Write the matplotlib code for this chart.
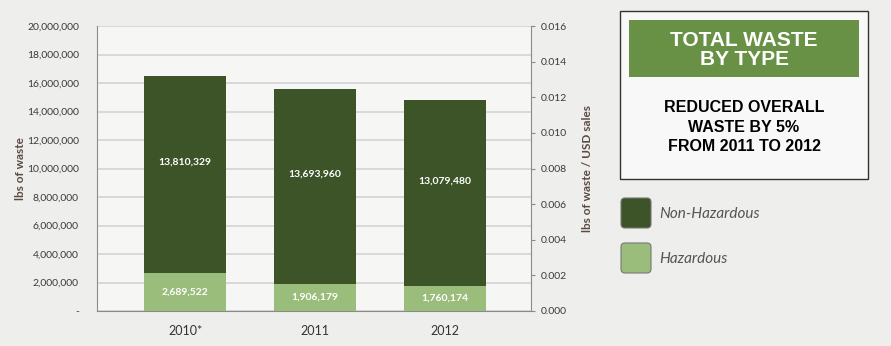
import numpy as np
import matplotlib.pyplot as plt
from matplotlib.patches import FancyBboxPatch, Rectangle
from matplotlib.ticker import FuncFormatter, MultipleLocator

# data
years = ['2010*', '2011', '2012']
hazardous = [2689522, 1906179, 1760174]
non_hazardous = [13810329, 13693960, 13079480]
legend_labels = ['Non-Hazardous', 'Hazardous']

dark_green = '#3d5428'
light_green = '#9bbd7b'
header_green = '#689145'
bg = '#eeeeec'

plt.rcParams['font.family'] = ['Lato', 'DejaVu Sans']

fig = plt.figure(figsize=(8.91, 3.46), dpi=100, facecolor=bg)
ax = fig.add_axes([97 / 891, 35 / 346, 434 / 891, 285 / 346])
ax.set_facecolor('#f6f6f5')

x = np.arange(len(years))
ax.bar(x, hazardous, width=0.63, color=light_green, zorder=3)
ax.bar(x, non_hazardous, width=0.63, bottom=hazardous, color=dark_green, zorder=3)

# value labels
for i in range(len(years)):
    ax.text(x[i], hazardous[i] / 2, f'{hazardous[i]:,}', ha='center', va='center',
            color='white', fontsize=7.5, fontweight='bold', zorder=4)
    ax.text(x[i], hazardous[i] + non_hazardous[i] * 0.56, f'{non_hazardous[i]:,}',
            ha='center', va='center', color='white', fontsize=7.5, fontweight='bold', zorder=4)

ax.set_xlim(-0.677, 2.66)
ax.set_ylim(0, 20000000)
ax.yaxis.set_major_locator(MultipleLocator(2000000))
ax.yaxis.set_major_formatter(FuncFormatter(lambda v, p: '-' if v == 0 else f'{int(v):,}'))
ax.grid(axis='y', color='#d4d4d4', linewidth=1.2, zorder=0)
ax.set_xticks(x)
ax.set_xticklabels(years, fontsize=9, color='#333333')
ax.tick_params(axis='x', length=0, pad=10)
ax.tick_params(axis='y', length=0, pad=13, labelsize=7.5, labelcolor='#3a3a3a')
for s in ['top', 'right']:
    ax.spines[s].set_visible(False)
for s in ['left', 'bottom']:
    ax.spines[s].set_color('#8a8a8a')
ax.set_ylabel('lbs of waste', fontsize=8.5, fontweight='bold', color='#5a4a42', labelpad=1)

ax2 = ax.twinx()
ax2.set_ylim(0, 0.016)
ax2.yaxis.set_major_locator(MultipleLocator(0.002))
ax2.yaxis.set_major_formatter(FuncFormatter(lambda v, p: f'{v:.3f}'))
ax2.tick_params(axis='y', length=3, color='#8a8a8a', labelsize=7.5, labelcolor='#3a3a3a', pad=4)
for s in ['top', 'left', 'bottom']:
    ax2.spines[s].set_visible(False)
ax2.spines['right'].set_color('#8a8a8a')
ax2.set_ylabel('lbs of waste / USD sales', fontsize=8.5, fontweight='bold', color='#5a4a42',
               labelpad=11)

# right-hand panel in pixel coordinates
ov = fig.add_axes([0, 0, 1, 1], facecolor='none')
ov.set_xlim(0, 891)
ov.set_ylim(346, 0)
ov.axis('off')

ov.add_patch(Rectangle((620, 11), 248, 168, facecolor='#f8f8f8', edgecolor='#333333', lw=1))
ov.add_patch(Rectangle((629, 20), 230, 57, facecolor=header_green, edgecolor='none'))
ov.text(744, 50, 'TOTAL WASTE\nBY TYPE', ha='center', va='center', color='white',
        fontsize=15, fontweight='bold', family=['Liberation Sans', 'DejaVu Sans'],
        linespacing=1.05)
ov.text(744, 127, 'REDUCED OVERALL\nWASTE BY 5%\nFROM 2011 TO 2012', ha='center', va='center',
        color='black', fontsize=11.5, fontweight='bold', family=['Liberation Sans', 'DejaVu Sans'],
        linespacing=1.35)

legend_colors = [dark_green, light_green]
legend_y = [197, 242]
for lab, col, yy in zip(legend_labels, legend_colors, legend_y):
    ov.add_patch(FancyBboxPatch((621, yy + 1), 30, 30, boxstyle='round,pad=0,rounding_size=4',
                                facecolor=col, edgecolor='#777777', lw=0.8))
    ov.text(659, yy + 17, lab, ha='left', va='center', fontsize=11, style='italic',
            color='#555555')

fig.savefig('out.png', dpi=100, facecolor=bg)
